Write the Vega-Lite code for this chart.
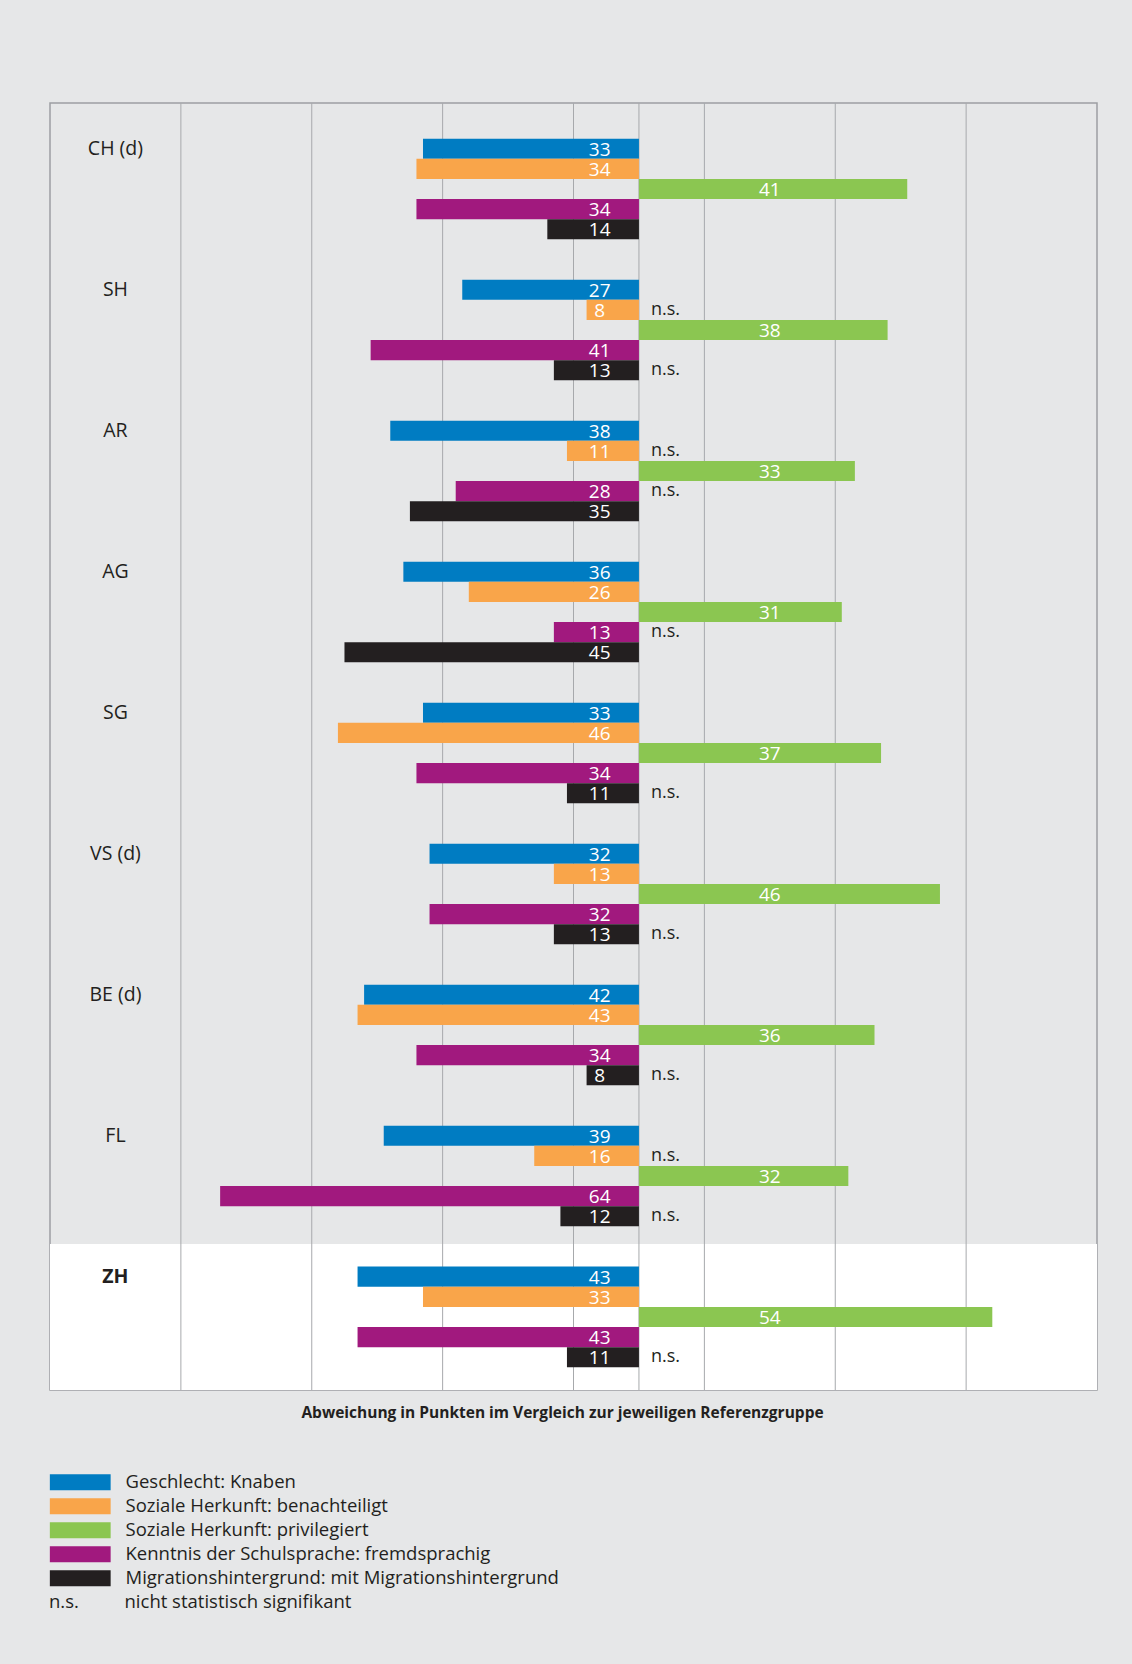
{
  "$schema": "https://vega.github.io/schema/vega-lite/v6.json",
  "width": 1047,
  "height": 1287,
  "autosize": {"type": "none"},
  "padding": {"left": 50, "top": 103, "right": 35, "bottom": 274},
  "background": "#E6E7E8",
  "config": {
    "view": {"stroke": "#9D9FA2", "strokeWidth": 1.5, "fill": null},
    "font": "Open Sans",
    "text": {"font": "Open Sans"}
  },
  "data": {
    "values": [
      {"canton": "CH (d)", "category": "Geschlecht: Knaben", "value": -33, "ns": false},
      {"canton": "CH (d)", "category": "Soziale Herkunft: benachteiligt", "value": -34, "ns": false},
      {"canton": "CH (d)", "category": "Soziale Herkunft: privilegiert", "value": 41, "ns": false},
      {"canton": "CH (d)", "category": "Kenntnis der Schulsprache: fremdsprachig", "value": -34, "ns": false},
      {"canton": "CH (d)", "category": "Migrationshintergrund: mit Migrationshintergrund", "value": -14, "ns": false},
      {"canton": "SH", "category": "Geschlecht: Knaben", "value": -27, "ns": false},
      {"canton": "SH", "category": "Soziale Herkunft: benachteiligt", "value": -8, "ns": true},
      {"canton": "SH", "category": "Soziale Herkunft: privilegiert", "value": 38, "ns": false},
      {"canton": "SH", "category": "Kenntnis der Schulsprache: fremdsprachig", "value": -41, "ns": false},
      {"canton": "SH", "category": "Migrationshintergrund: mit Migrationshintergrund", "value": -13, "ns": true},
      {"canton": "AR", "category": "Geschlecht: Knaben", "value": -38, "ns": false},
      {"canton": "AR", "category": "Soziale Herkunft: benachteiligt", "value": -11, "ns": true},
      {"canton": "AR", "category": "Soziale Herkunft: privilegiert", "value": 33, "ns": false},
      {"canton": "AR", "category": "Kenntnis der Schulsprache: fremdsprachig", "value": -28, "ns": true},
      {"canton": "AR", "category": "Migrationshintergrund: mit Migrationshintergrund", "value": -35, "ns": false},
      {"canton": "AG", "category": "Geschlecht: Knaben", "value": -36, "ns": false},
      {"canton": "AG", "category": "Soziale Herkunft: benachteiligt", "value": -26, "ns": false},
      {"canton": "AG", "category": "Soziale Herkunft: privilegiert", "value": 31, "ns": false},
      {"canton": "AG", "category": "Kenntnis der Schulsprache: fremdsprachig", "value": -13, "ns": true},
      {"canton": "AG", "category": "Migrationshintergrund: mit Migrationshintergrund", "value": -45, "ns": false},
      {"canton": "SG", "category": "Geschlecht: Knaben", "value": -33, "ns": false},
      {"canton": "SG", "category": "Soziale Herkunft: benachteiligt", "value": -46, "ns": false},
      {"canton": "SG", "category": "Soziale Herkunft: privilegiert", "value": 37, "ns": false},
      {"canton": "SG", "category": "Kenntnis der Schulsprache: fremdsprachig", "value": -34, "ns": false},
      {"canton": "SG", "category": "Migrationshintergrund: mit Migrationshintergrund", "value": -11, "ns": true},
      {"canton": "VS (d)", "category": "Geschlecht: Knaben", "value": -32, "ns": false},
      {"canton": "VS (d)", "category": "Soziale Herkunft: benachteiligt", "value": -13, "ns": false},
      {"canton": "VS (d)", "category": "Soziale Herkunft: privilegiert", "value": 46, "ns": false},
      {"canton": "VS (d)", "category": "Kenntnis der Schulsprache: fremdsprachig", "value": -32, "ns": false},
      {"canton": "VS (d)", "category": "Migrationshintergrund: mit Migrationshintergrund", "value": -13, "ns": true},
      {"canton": "BE (d)", "category": "Geschlecht: Knaben", "value": -42, "ns": false},
      {"canton": "BE (d)", "category": "Soziale Herkunft: benachteiligt", "value": -43, "ns": false},
      {"canton": "BE (d)", "category": "Soziale Herkunft: privilegiert", "value": 36, "ns": false},
      {"canton": "BE (d)", "category": "Kenntnis der Schulsprache: fremdsprachig", "value": -34, "ns": false},
      {"canton": "BE (d)", "category": "Migrationshintergrund: mit Migrationshintergrund", "value": -8, "ns": true},
      {"canton": "FL", "category": "Geschlecht: Knaben", "value": -39, "ns": false},
      {"canton": "FL", "category": "Soziale Herkunft: benachteiligt", "value": -16, "ns": true},
      {"canton": "FL", "category": "Soziale Herkunft: privilegiert", "value": 32, "ns": false},
      {"canton": "FL", "category": "Kenntnis der Schulsprache: fremdsprachig", "value": -64, "ns": false},
      {"canton": "FL", "category": "Migrationshintergrund: mit Migrationshintergrund", "value": -12, "ns": true},
      {"canton": "ZH", "category": "Geschlecht: Knaben", "value": -43, "ns": false},
      {"canton": "ZH", "category": "Soziale Herkunft: benachteiligt", "value": -33, "ns": false},
      {"canton": "ZH", "category": "Soziale Herkunft: privilegiert", "value": 54, "ns": false},
      {"canton": "ZH", "category": "Kenntnis der Schulsprache: fremdsprachig", "value": -43, "ns": false},
      {"canton": "ZH", "category": "Migrationshintergrund: mit Migrationshintergrund", "value": -11, "ns": true}
    ]
  },
  "resolve": {"scale": {"color": "independent"}, "legend": {"color": "independent"}},
  "layer": [
    {
      "description": "white band behind the Zurich group",
      "transform": [{"filter": "datum.canton === 'ZH' && datum.category === 'Geschlecht: Knaben'"}],
      "mark": {"type": "bar", "color": "#FFFFFF", "height": {"band": 1.036}},
      "encoding": {
        "y": {
          "field": "canton",
          "type": "nominal",
          "sort": ["CH (d)", "SH", "AR", "AG", "SG", "VS (d)", "BE (d)", "FL", "ZH"],
          "scale": {"paddingInner": 0, "paddingOuter": 0.064, "align": 0.86},
          "axis": null
        },
        "x": {
          "datum": -90,
          "type": "quantitative",
          "scale": {"domain": [-90, 70], "nice": false, "zero": false},
          "axis": {
            "title": "Abweichung in Punkten im Vergleich zur jeweiligen Referenzgruppe",
            "grid": false, "labels": false, "ticks": false, "domain": false,
            "titleFont": "Open Sans", "titleFontWeight": "bold", "titleFontSize": 15.5,
            "titleColor": "#231F20", "titlePadding": 15, "titleX": 512
          }
        },
        "x2": {"datum": 70}
      }
    },
    {
      "description": "vertical grid lines, drawn above the white band and below the bars",
      "transform": [{"filter": "datum.canton === 'ZH' && datum.category === 'Geschlecht: Knaben'"}],
      "layer": [
        {"mark": {"type": "rule", "color": "#A7A9AC", "strokeWidth": 1}, "encoding": {"x": {"datum": -70, "type": "quantitative"}}},
        {"mark": {"type": "rule", "color": "#A7A9AC", "strokeWidth": 1}, "encoding": {"x": {"datum": -50, "type": "quantitative"}}},
        {"mark": {"type": "rule", "color": "#A7A9AC", "strokeWidth": 1}, "encoding": {"x": {"datum": -30, "type": "quantitative"}}},
        {"mark": {"type": "rule", "color": "#A7A9AC", "strokeWidth": 1}, "encoding": {"x": {"datum": -10, "type": "quantitative"}}},
        {"mark": {"type": "rule", "color": "#A7A9AC", "strokeWidth": 1}, "encoding": {"x": {"datum": 0, "type": "quantitative"}}},
        {"mark": {"type": "rule", "color": "#A7A9AC", "strokeWidth": 1}, "encoding": {"x": {"datum": 10, "type": "quantitative"}}},
        {"mark": {"type": "rule", "color": "#A7A9AC", "strokeWidth": 1}, "encoding": {"x": {"datum": 30, "type": "quantitative"}}},
        {"mark": {"type": "rule", "color": "#A7A9AC", "strokeWidth": 1}, "encoding": {"x": {"datum": 50, "type": "quantitative"}}}
      ]
    },
    {
      "encoding": {
        "y": {"field": "canton", "type": "nominal", "sort": ["CH (d)", "SH", "AR", "AG", "SG", "VS (d)", "BE (d)", "FL", "ZH"]},
        "yOffset": {
          "field": "category",
          "type": "nominal",
          "sort": ["Geschlecht: Knaben", "Soziale Herkunft: benachteiligt", "Soziale Herkunft: privilegiert", "Kenntnis der Schulsprache: fremdsprachig", "Migrationshintergrund: mit Migrationshintergrund"],
          "scale": {"paddingInner": 0, "paddingOuter": 1.025}
        }
      },
      "resolve": {"scale": {"color": "independent"}, "legend": {"color": "independent"}},
      "layer": [
        {
          "mark": {"type": "bar"},
          "encoding": {
            "x": {"field": "value", "type": "quantitative"},
            "x2": {"datum": 0},
            "color": {
              "field": "category",
              "type": "nominal",
              "sort": ["Geschlecht: Knaben", "Soziale Herkunft: benachteiligt", "Soziale Herkunft: privilegiert", "Kenntnis der Schulsprache: fremdsprachig", "Migrationshintergrund: mit Migrationshintergrund"],
              "scale": {"range": ["#007CC2", "#F9A54A", "#8BC651", "#A1197E", "#231F20"]},
              "legend": {
                "orient": "none", "legendX": 21, "legendY": 1370, "title": null,
                "symbolType": "M-3.8,-1H3.8V1H-3.8Z", "symbolSize": 256, "symbolStrokeWidth": 0,
                "labelFont": "Open Sans", "labelFontSize": 18.5, "labelColor": "#231F20",
                "labelOffset": 36, "rowPadding": 5, "labelLimit": 700
              }
            }
          }
        },
        {
          "transform": [{"filter": "datum.value < 0"}, {"calculate": "abs(datum.value)", "as": "points"}],
          "mark": {"type": "text", "color": "#FFFFFF", "fontSize": 19, "align": "center", "baseline": "middle", "dy": 1},
          "encoding": {
            "x": {"datum": -6, "type": "quantitative"},
            "text": {"field": "points", "type": "quantitative"}
          }
        },
        {
          "transform": [{"filter": "datum.value > 0"}],
          "mark": {"type": "text", "color": "#FFFFFF", "fontSize": 19, "align": "center", "baseline": "middle", "dy": 1},
          "encoding": {
            "x": {"datum": 20, "type": "quantitative"},
            "text": {"field": "value", "type": "quantitative"}
          }
        },
        {
          "transform": [{"filter": "datum.ns"}],
          "mark": {"type": "text", "fontSize": 18, "align": "left", "baseline": "middle", "dx": 12, "dy": 0},
          "encoding": {
            "x": {"datum": 0, "type": "quantitative"},
            "text": {"value": "n.s."},
            "color": {
              "datum": "nicht statistisch signifikant",
              "type": "nominal",
              "scale": {"range": ["#231F20"]},
              "legend": {
                "orient": "none", "legendX": -1, "legendY": 1490, "title": "n.s.", "titleOrient": "left",
                "titleFont": "Open Sans", "titleFontWeight": "normal", "titleFontSize": 18.5, "titleColor": "#231F20",
                "titlePadding": 23, "titleBaseline": "middle",
                "symbolType": "circle", "symbolSize": 4, "symbolOpacity": 0, "symbolStrokeWidth": 0,
                "labelFont": "Open Sans", "labelFontSize": 18.5, "labelColor": "#231F20", "labelOffset": 4, "labelLimit": 700
              }
            }
          }
        },
        {
          "transform": [{"filter": "datum.category === 'Geschlecht: Knaben' && datum.canton !== 'ZH'"}],
          "mark": {"type": "text", "fontSize": 19.5, "color": "#231F20", "align": "center", "baseline": "middle"},
          "encoding": {
            "x": {"datum": -80, "type": "quantitative"},
            "text": {"field": "canton", "type": "nominal"}
          }
        },
        {
          "transform": [{"filter": "datum.category === 'Geschlecht: Knaben' && datum.canton === 'ZH'"}],
          "mark": {"type": "text", "fontSize": 19.5, "fontWeight": "bold", "color": "#231F20", "align": "center", "baseline": "middle"},
          "encoding": {
            "x": {"datum": -80, "type": "quantitative"},
            "text": {"field": "canton", "type": "nominal"}
          }
        }
      ]
    }
  ]
}
